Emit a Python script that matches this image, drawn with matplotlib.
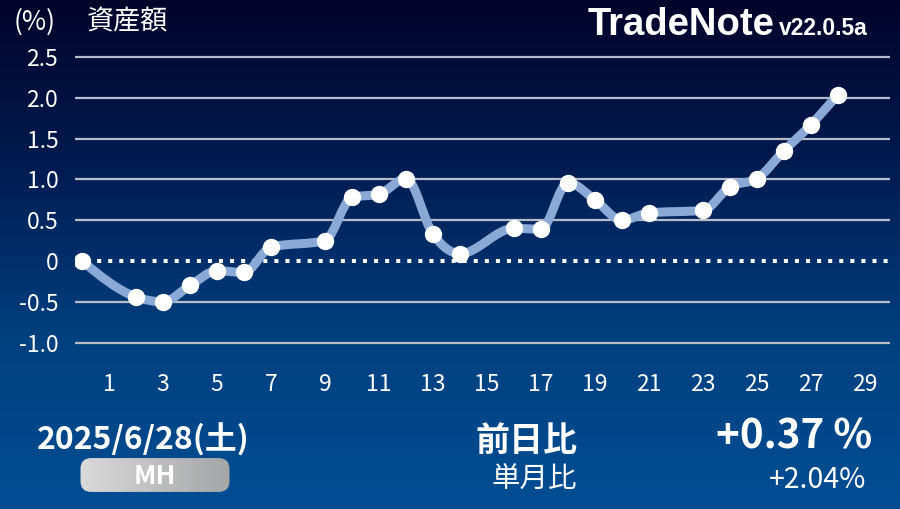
import numpy as np
import matplotlib
matplotlib.use("Agg")
import matplotlib.pyplot as plt
from matplotlib.path import Path
from matplotlib.patches import PathPatch, FancyBboxPatch
from matplotlib.colors import LinearSegmentedColormap

plt.rcParams['font.family'] = ['Noto Sans CJK JP', 'DejaVu Sans']

# 日付 (6月の日) と資産額の変化率 (%)
days = [0, 2, 3, 4, 5, 6, 7, 9, 10, 11, 12, 13, 14, 16, 17, 18, 19, 20, 21,
        23, 24, 25, 26, 27, 28]
values = [0.00, -0.44, -0.50, -0.30, -0.12, -0.14, 0.17, 0.25, 0.78, 0.82,
          1.01, 0.33, 0.09, 0.40, 0.39, 0.96, 0.75, 0.50, 0.59, 0.62, 0.91,
          1.01, 1.35, 1.67, 2.04]
xticks = list(range(1, 30, 2))
yticks = [-1.0, -0.5, 0, 0.5, 1.0, 1.5, 2.0, 2.5]
ytick_labels = ["-1.0", "-0.5", "0", "0.5", "1.0", "1.5", "2.0", "2.5"]

date_text = "2025/6/28(土)"
badge_text = "MH"
day_label = "前日比"
day_value = "+0.37 %"
month_label = "単月比"
month_value = "+2.04%"


def monotone_path(x, y):
    # d3 curveMonotoneX 風の滑らかな線 (ベジェ曲線)
    x = np.asarray(x, float)
    y = np.asarray(y, float)
    n = len(x)
    h = np.diff(x)
    s = np.diff(y) / h
    t = np.zeros(n)
    for i in range(1, n - 1):
        p = (s[i - 1] * h[i] + s[i] * h[i - 1]) / (h[i - 1] + h[i])
        t[i] = (np.sign(s[i - 1]) + np.sign(s[i])) * min(abs(s[i - 1]), abs(s[i]), 0.5 * abs(p))
    t[0] = (3 * s[0] - t[1]) / 2
    t[-1] = (3 * s[-1] - t[-2]) / 2
    verts = [(x[0], y[0])]
    codes = [Path.MOVETO]
    for i in range(n - 1):
        d = h[i] / 3
        verts += [(x[i] + d, y[i] + d * t[i]), (x[i + 1] - d, y[i + 1] - d * t[i + 1]), (x[i + 1], y[i + 1])]
        codes += [Path.CURVE4] * 3
    return Path(verts, codes)


fig = plt.figure(figsize=(9, 5.09), dpi=100)

# 背景グラデーション
bg = fig.add_axes([0, 0, 1, 1])
cmap = LinearSegmentedColormap.from_list("bg", ["#02042a", "#001c52", "#00407f", "#014e94"])
bg.imshow(np.linspace(0, 1, 256).reshape(-1, 1), aspect="auto", cmap=cmap, extent=[0, 1, 0, 1])
bg.set_xlim(0, 1)
bg.set_ylim(0, 1)
bg.axis("off")

ax = fig.add_axes([75 / 900, 1 - 370 / 509, 815 / 900, 320 / 509])
ax.patch.set_alpha(0)
ax.set_xlim(-0.26, 29.93)
ax.set_ylim((261 - 370) / 81.6, (261 - 50) / 81.6)
for sp in ax.spines.values():
    sp.set_visible(False)

for yv in yticks:
    if yv != 0:
        ax.axhline(yv, color="#b8bccb", lw=1.6, zorder=1)
ax.axhline(0, color="white", lw=2.9, linestyle=(0, (1, 1.75)), zorder=1)

ax.add_patch(PathPatch(monotone_path(days, values), facecolor="none", edgecolor="#8aa9d6",
                       lw=6.5, capstyle="round", joinstyle="round", zorder=2))
ax.plot(days, values, linestyle="none", marker="o", ms=11.5, mfc="white", mec="white", zorder=3)

ax.set_xticks(xticks)
ax.set_xticklabels([str(v) for v in xticks])
ax.set_yticks(yticks)
ax.set_yticklabels(ytick_labels)
ax.tick_params(axis="both", length=0, colors="white", labelsize=16.5)
ax.tick_params(axis="y", pad=12)
ax.tick_params(axis="x", pad=2)

# 上部テキスト
fig.text(14 / 900, 1 - 22 / 509, "(%)", color="white", fontsize=19, va="center", ha="left")
fig.text(87 / 900, 1 - 22 / 509, "資産額", color="white", fontsize=19.5, va="center", ha="left")
fig.text(775 / 900, 1 - 35 / 509, "TradeNote", color="white", fontsize=27.5, fontweight="bold",
         family="Liberation Sans", ha="right", va="baseline")
fig.text(779 / 900, 1 - 35 / 509, "v22.0.5a", color="white", fontsize=16.5, fontweight="bold",
         family="Liberation Sans", ha="left", va="baseline")

# 下部テキスト
fig.text(143 / 900, 1 - 440 / 509, date_text, color="white", fontsize=23, fontweight="bold",
         ha="center", va="center")
badge_ax = fig.add_axes([79 / 900, 1 - 493 / 509, 152 / 900, 36 / 509])
badge_ax.set_xlim(0, 1)
badge_ax.set_ylim(0, 1)
badge_ax.axis("off")
grad = np.linspace(0, 1, 128).reshape(1, -1)
img = badge_ax.imshow(grad, aspect="auto", extent=[0, 1, 0, 1],
                      cmap=LinearSegmentedColormap.from_list("btn", ["#dadada", "#a4a5a6"]))
clip = FancyBboxPatch((0.01, 0.03), 0.98, 0.94, boxstyle="round,pad=0,rounding_size=0.07",
                      mutation_aspect=152 / 36, transform=badge_ax.transAxes, facecolor="none",
                      edgecolor="none")
badge_ax.add_patch(clip)
img.set_clip_path(clip)
badge_ax.text(0.5, 0.45, badge_text, color="white", fontsize=19, fontweight="bold",
              ha="center", va="center")

fig.text(577 / 900, 1 - 440 / 509, day_label, color="white", fontsize=24.5, fontweight="bold",
         ha="right", va="center")
fig.text(872 / 900, 1 - 437 / 509, day_value, color="white", fontsize=29, fontweight="bold",
         ha="right", va="center")
fig.text(577 / 900, 1 - 480 / 509, month_label, color="white", fontsize=20.5,
         ha="right", va="center")
fig.text(866 / 900, 1 - 480 / 509, month_value, color="white", fontsize=20.5,
         ha="right", va="center")

fig.savefig("out.png", dpi=100)
